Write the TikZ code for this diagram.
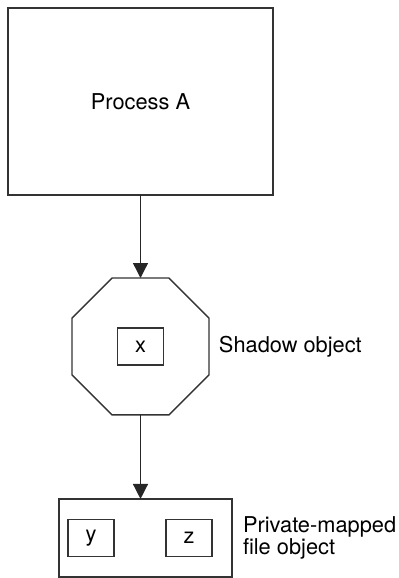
\documentclass[tikz,border=0pt]{standalone}
\usepackage{fontspec}
\setmainfont{TeX Gyre Heros}
\usetikzlibrary{shapes.geometric,arrows.meta,positioning}

\begin{document}
\begin{tikzpicture}[
            node distance=42pt,
            font=\fontsize{10.9}{10.2}\selectfont,
            every node/.style={outer sep=0pt},
            proc/.style={rectangle, draw=black!80, line width=0.75pt, minimum width=132.5pt, minimum height=93.5pt},
            octa/.style={regular polygon, regular polygon sides=8, draw=black!80, line width=0.7pt, minimum size=74.1pt, inner sep=0pt},
            page/.style={rectangle, draw=black!80, line width=0.6pt, minimum width=23pt, minimum height=18.5pt, inner sep=0pt},
            fileobj/.style={rectangle, draw=black!80, line width=0.7pt, minimum width=86.5pt, minimum height=39pt},
            note/.style={inner sep=0pt, align=left},
            arrow/.style={-{Triangle[width=7.5pt,length=7.5pt]}, draw=black!85, line width=0.7pt}
        ]
            \useasboundingbox (0,0) rectangle (199.5pt,-289pt);
            \node[proc] (procA) at (70.25pt,-50.75pt) {Process A};
            \node[octa, below=41.5pt of procA] (shadow) {};
            \node[page] (pgx) at (shadow) {x};
            \node[note, right=5pt of shadow] (shadowlbl) {Shadow object};
            \node[fileobj, below=42pt of shadow, xshift=2.5pt] (file) {};
            \node[page, xshift=-27.25pt] (pgy) at (file) {y};
            \node[page, xshift=21.75pt] (pgz) at (file) {z};
            \node[note, right=5.5pt of file] (filelbl) {Private-mapped\\file object};

            \draw[arrow] (procA) -- (shadow);
            \draw[arrow] (shadow.south) -- (shadow.south |- file.north);
        \end{tikzpicture}
\end{document}
